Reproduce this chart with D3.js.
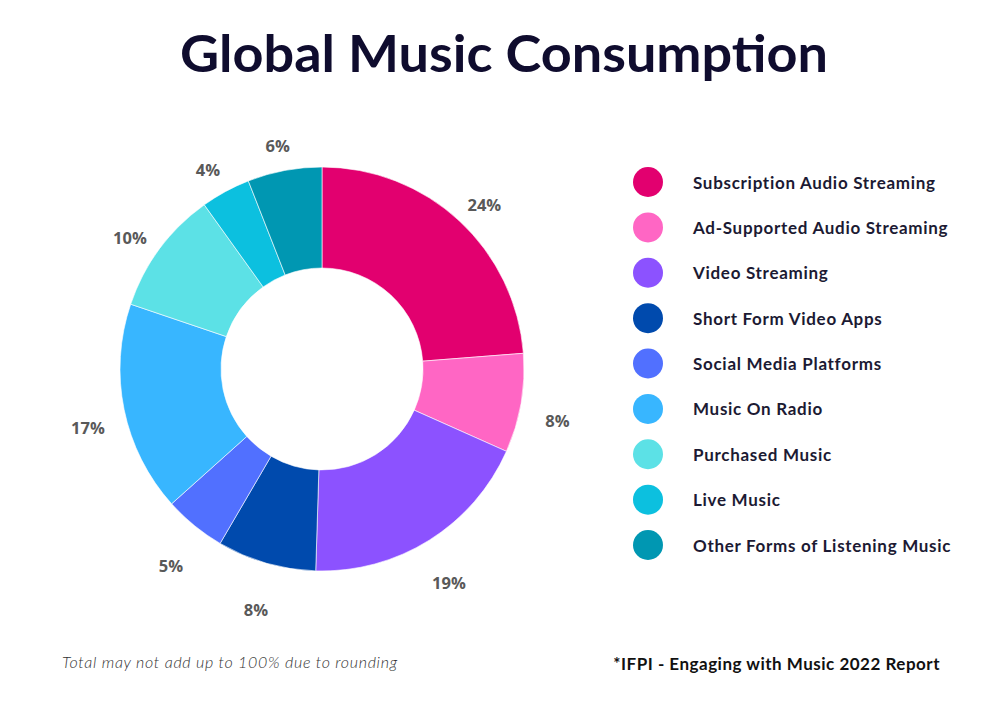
<!DOCTYPE html>
<html><head><meta charset="utf-8">
<script src="https://cdn.jsdelivr.net/npm/d3@7"></script>
<style>html,body{margin:0;padding:0;background:#fff;}svg{display:block;}</style>
</head><body>
<svg id="chart" width="988" height="719"></svg>
<script>
const categories = ["Subscription Audio Streaming","Ad-Supported Audio Streaming","Video Streaming","Short Form Video Apps","Social Media Platforms","Music On Radio","Purchased Music","Live Music","Other Forms of Listening Music"];
const values = [24, 8, 19, 8, 5, 17, 10, 4, 6];
const colors = ["#E2006F","#FF66C4","#8C52FF","#004AAD","#5170FF","#38B6FF","#5CE1E6","#0CC0DF","#0097B2"];
const title = "Global Music Consumption";
const noteLeft = "Total may not add up to 100% due to rounding";
const noteRight = "*IFPI - Engaging with Music 2022 Report";

const svg = d3.select("#chart");
const W = 988, H = 719;
const cx = 322, cy = 369, rOuter = 202, rInner = 101, rLabel = 239;

svg.append("rect").attr("width", W).attr("height", H).attr("fill", "#fff");

svg.append("text").attr("x", 504).attr("y", 72).attr("text-anchor", "middle")
  .attr("font-family", "Lato, sans-serif").attr("font-weight", 700).attr("font-size", 52)
  .attr("fill", "#0f0c2e").attr("textLength", 648).attr("lengthAdjust", "spacingAndGlyphs")
  .text(title);

const data = categories.map((c, i) => ({cat: c, value: values[i], color: colors[i]}));
const pie = d3.pie().value(d => d.value).sort(null);
const arcs = pie(data);
const arc = d3.arc().innerRadius(rInner).outerRadius(rOuter);
const labelArc = d3.arc().innerRadius(rLabel).outerRadius(rLabel);

const g = svg.append("g").attr("transform", `translate(${cx},${cy})`);
g.selectAll("path").data(arcs).join("path")
  .attr("d", arc).attr("fill", d => d.data.color)
  .attr("stroke", "#fff").attr("stroke-width", 0.6);

g.selectAll("text.lbl").data(arcs).join("text").attr("class", "lbl")
  .attr("transform", d => { const [x, y] = labelArc.centroid(d); return `translate(${x},${y + 11})`; })
  .attr("text-anchor", "middle").attr("dominant-baseline", "central")
  .attr("font-family", "'Open Sans', sans-serif").attr("font-weight", 700).attr("font-size", 16.5)
  .attr("fill", "#595959")
  .text(d => d.data.value + "%");

const color = d3.scaleOrdinal().domain(categories).range(colors);
const ly = d3.scalePoint().domain(categories).range([182, 545]);
const leg = svg.append("g");
const items = leg.selectAll("g").data(categories).join("g")
  .attr("transform", d => `translate(648,${ly(d)})`);
items.append("circle").attr("r", 15).attr("fill", d => color(d));
items.append("text").attr("x", 45).attr("y", 0).attr("dominant-baseline", "central")
  .attr("font-family", "Lato, sans-serif").attr("font-weight", 700).attr("font-size", 17)
  .attr("letter-spacing", 0.7)
  .attr("fill", "#1c1a33").text(d => d);

svg.append("text").attr("x", 62).attr("y", 668)
  .attr("font-family", "Lato, sans-serif").attr("font-style", "italic").attr("font-weight", 300)
  .attr("font-size", 16).attr("letter-spacing", 0.7).attr("fill", "#333").text(noteLeft);

svg.append("text").attr("x", 940).attr("y", 670).attr("text-anchor", "end")
  .attr("font-family", "Lato, sans-serif").attr("font-weight", 700)
  .attr("font-size", 17).attr("letter-spacing", 0.5).attr("fill", "#111").text(noteRight);
</script>
</body></html>
